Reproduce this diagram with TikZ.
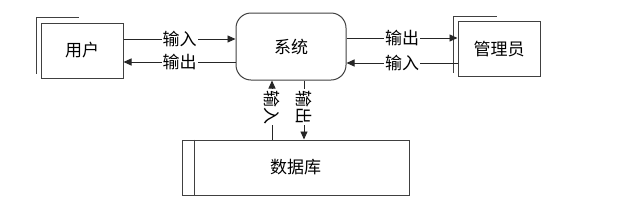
\documentclass[tikz,border=0pt]{standalone}
\usepackage{fontspec}
\newfontfamily\cjk{Noto Sans CJK SC}
\usetikzlibrary{arrows.meta}
\begin{document}
\begin{tikzpicture}[x=1pt,y=-1pt,
  line width=0.9pt, draw=black!80,
  every node/.style={font=\cjk\fontsize{17}{20}\selectfont},
  ent/.style={draw=black!75, line width=1pt, minimum width=82pt, minimum height=55pt, inner sep=0pt},
  proc/.style={draw=black!75, line width=1pt, rounded corners=15pt, minimum width=110pt, minimum height=67pt, inner sep=0pt},
  store/.style={draw=black!75, line width=1pt, minimum width=227pt, minimum height=55pt, inner sep=0pt},
  lbl/.style={fill=white, inner sep=1pt},
  arr/.style={draw=black!85, line width=0.9pt, -{Triangle[length=8pt,width=7pt]}}]
\useasboundingbox (0,0) rectangle (618,207);
\node[ent] (user) at (82,50.5) {用户};
\node[proc] (sys) at (291,46.5) {系统};
\node[ent] (adm) at (499,49) {管理员};
\node[store] (db) at (295.5,167.5) {数据库};
% shadows
\draw[black!75, line width=1pt] ([shift={(-4,-5)}]user.south west) -- ([shift={(-4,-5)}]user.north west) -- ([shift={(-45,-5)}]user.north east);
\draw[black!75, line width=1pt] ([shift={(-4,-4)}]adm.south west) -- ([shift={(-4,-5)}]adm.north west) -- ([shift={(-44,-5)}]adm.north east);
\draw[black!75, line width=1pt] ([xshift=13pt]db.north west) -- ([xshift=13pt]db.south west);
% coordinates
\coordinate (ya) at (0,39);
\coordinate (yb) at (0,62);
\coordinate (yc) at (0,38);
\coordinate (yd) at (0,63);
\coordinate (xl) at (272,0);
\coordinate (xr) at (304,0);
% horizontal arrows
\draw[arr] (user.east |- ya) -- node[lbl] {输入} (sys.west |- ya);
\draw[arr] (sys.west |- yb) -- node[lbl] {输出} (user.east |- yb);
\draw[arr] (sys.east |- yc) -- node[lbl] {输出} (adm.west |- yc);
\draw[arr] (adm.west |- yd) -- node[lbl] {输入} (sys.east |- yd);
% vertical arrows
\draw[arr] (db.north -| xl) -- node[lbl, rotate=-90, pos=0.55] {输入} (sys.south -| xl);
\draw[arr] (sys.south -| xr) -- node[lbl, rotate=-90, pos=0.45] {输出} (db.north -| xr);
\end{tikzpicture}
\end{document}
